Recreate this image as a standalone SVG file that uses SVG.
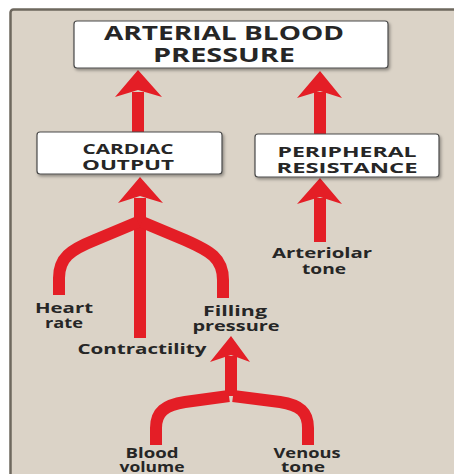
<svg xmlns="http://www.w3.org/2000/svg" width="454" height="474" viewBox="0 0 454 474">
<defs>
<filter id="sh" x="-10%" y="-10%" width="130%" height="140%">
<feDropShadow dx="1.5" dy="2" stdDeviation="1.5" flood-color="#000" flood-opacity="0.35"/>
</filter>
</defs>
<style>
.box{fill:#fff;stroke:#4a4a4a;stroke-width:1.2;filter:url(#sh)}
.t{font-family:"Open Sans","Liberation Sans",sans-serif;font-weight:700;fill:#262626;text-anchor:middle}
.big{font-size:19px}
.mid{font-size:15px}
.sm{font-size:14px}
.sh{fill:none;stroke:#e41e26;stroke-width:12;stroke-linejoin:round}
.hd{fill:#e41e26}
</style>
<rect x="0" y="0" width="454" height="474" fill="#fff"/>
<rect x="10.5" y="9.5" width="460" height="480" rx="3" fill="#dbd3c7" stroke="#6e685e" stroke-width="2.5"/>
<g id="connectors">
<path class="sh" d="M138,132 V92"/>
<path class="hd" d="M138,70 L162,97 L138,90 L115,97 Z"/>
<path class="sh" d="M320,134 V92"/>
<path class="hd" d="M320,71 L342,98 L320,91 L297,98 Z"/>
<path class="sh" d="M140,338 V198"/>
<path class="hd" d="M140,177 L163,203 L140,196 L118,203 Z"/>
<path class="sh" d="M138,222 L95,240 C70,250 59,258 59,278 V295"/>
<path class="sh" d="M142,222 L185,240 C210,251 223,258 223,280 V298"/>
<path class="sh" d="M320,242 V198"/>
<path class="hd" d="M320,178 L342,204 L320,197 L297,204 Z"/>
<path class="sh" d="M231,396 V356"/>
<path class="hd" d="M231,336 L250,362 L231,355 L210,362 Z"/>
<path class="sh" d="M229,396 L185,402 C165,405 156,412 156,428 V445"/>
<path class="sh" d="M233,396 L280,402 C300,405 308,412 308,428 V445"/>
</g>
<g id="abp">
<rect class="box" x="74" y="21" width="314" height="47" rx="3"/>
<text class="t big" x="224" y="40" textLength="240" lengthAdjust="spacingAndGlyphs">ARTERIAL BLOOD</text>
<text class="t big" x="224" y="62" textLength="142" lengthAdjust="spacingAndGlyphs">PRESSURE</text>
</g>
<g id="cardiac">
<rect class="box" x="37" y="132" width="185" height="42" rx="3"/>
<text class="t mid" x="128" y="154" textLength="91" lengthAdjust="spacingAndGlyphs">CARDIAC</text>
<text class="t mid" x="128" y="170" textLength="92" lengthAdjust="spacingAndGlyphs">OUTPUT</text>
</g>
<g id="peripheral">
<rect class="box" x="255" y="134" width="184" height="43" rx="3"/>
<text class="t mid" x="347" y="157" textLength="139" lengthAdjust="spacingAndGlyphs">PERIPHERAL</text>
<text class="t mid" x="347" y="173" textLength="141" lengthAdjust="spacingAndGlyphs">RESISTANCE</text>
</g>
<g id="arteriolar">
<text class="t sm" x="322" y="258" textLength="100" lengthAdjust="spacingAndGlyphs">Arteriolar</text>
<text class="t sm" x="324" y="274" textLength="44" lengthAdjust="spacingAndGlyphs">tone</text>
</g>
<g id="heart">
<text class="t sm" x="64" y="313" textLength="58" lengthAdjust="spacingAndGlyphs">Heart</text>
<text class="t sm" x="64" y="328" textLength="38" lengthAdjust="spacingAndGlyphs">rate</text>
</g>
<g id="filling">
<text class="t sm" x="235" y="316" textLength="64" lengthAdjust="spacingAndGlyphs">Filling</text>
<text class="t sm" x="236" y="331" textLength="87" lengthAdjust="spacingAndGlyphs">pressure</text>
</g>
<g id="contractility">
<text class="t sm" x="142" y="354" textLength="129" lengthAdjust="spacingAndGlyphs">Contractility</text>
</g>
<g id="blood">
<text class="t sm" x="152" y="458" textLength="53" lengthAdjust="spacingAndGlyphs">Blood</text>
<text class="t sm" x="152" y="472" textLength="65" lengthAdjust="spacingAndGlyphs">volume</text>
</g>
<g id="venous">
<text class="t sm" x="307" y="458" textLength="67" lengthAdjust="spacingAndGlyphs">Venous</text>
<text class="t sm" x="303" y="472" textLength="44" lengthAdjust="spacingAndGlyphs">tone</text>
</g>
</svg>
